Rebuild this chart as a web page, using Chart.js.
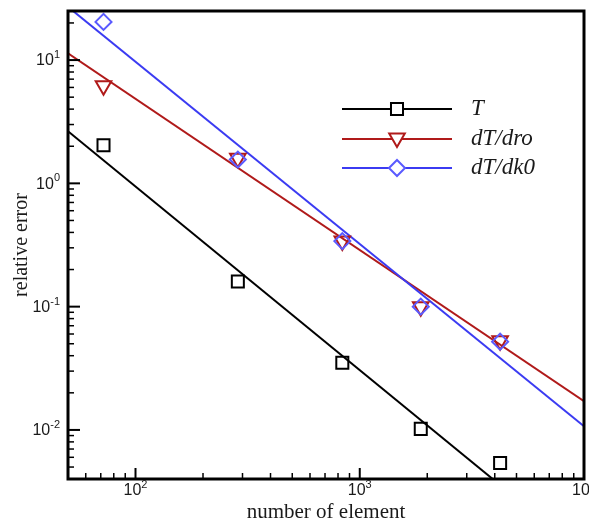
<!doctype html>
<html>
<head>
<meta charset="utf-8">
<title>relative error</title>
<script src="https://cdn.jsdelivr.net/npm/chart.js@4.4.1/dist/chart.umd.min.js"></script>
<style>
  body { margin: 0; background: #fff; }
  #wrap { position: relative; width: 595px; height: 524px; }
</style>
</head>
<body>
<div id="wrap"><canvas id="chart"></canvas></div>
<script>
// measured points
var elements = [72, 286, 836, 1871, 4226];
var errT     = [2.04, 0.16, 0.035, 0.0102, 0.0054];
var errDro   = [6.2, 1.6, 0.34, 0.10, 0.053];
var errDk0   = [20.4, 1.56, 0.34, 0.10, 0.052];

// fitted lines (end points)
var fitX   = [50, 10000];
var fitT   = [2.65, 0.00099];
var fitDro = [11.35, 0.0171];
var fitDk0 = [27, 0.0107];

// axes
var xMin = 50, xMax = 10000;
var yMin = 0.004, yMax = 25;
var xMajor = [100, 1000, 10000];
var yMajor = [0.01, 0.1, 1, 10];
var xTitle = 'number of element';
var yTitle = 'relative error';

var names = ['T', 'dT/dro', 'dT/dk0'];
var colLine = ['#000000', '#b01a1a', '#3b3bf2'];
var colMark = ['#000000', '#b01a1a', '#5a5aff'];

function pts(xs, ys) {
    var out = [];
    for (var i = 0; i < xs.length; i++) out.push({x: xs[i], y: ys[i]});
    return out;
}

function drawPow(ctx, exp, x, y, align) {
    var base = '10', sup = String(exp);
    ctx.font = '16px "Liberation Sans", Arial, sans-serif';
    var wb = ctx.measureText(base).width;
    ctx.font = '11px "Liberation Sans", Arial, sans-serif';
    var ws = ctx.measureText(sup).width;
    var left = align == 'right' ? x - wb - ws : x - (wb + ws) / 2;
    ctx.fillStyle = '#1a1a1a';
    ctx.textAlign = 'left';
    ctx.textBaseline = 'middle';
    ctx.font = '16px "Liberation Sans", Arial, sans-serif';
    ctx.fillText(base, left, y);
    ctx.font = '11px "Liberation Sans", Arial, sans-serif';
    ctx.fillText(sup, left + wb, y - 6);
}

var decor = {
    id: 'decor',
    afterDatasetsDraw: function(chart) {
        var ctx = chart.ctx, a = chart.chartArea;
        var sx = chart.scales.x, sy = chart.scales.y;
        ctx.save();
        ctx.strokeStyle = '#000';

        // x ticks (inward)
        for (var d = Math.floor(Math.log10(xMin)); d <= Math.log10(xMax); d++) {
            for (var m = 1; m <= 9; m++) {
                var v = m * Math.pow(10, d);
                if (v < xMin - 1e-9 || v > xMax + 1e-9) continue;
                var px = sx.getPixelForValue(v);
                ctx.lineWidth = m == 1 ? 2 : 1.5;
                ctx.beginPath();
                ctx.moveTo(px, a.bottom);
                ctx.lineTo(px, a.bottom - (m == 1 ? 11 : 6));
                ctx.stroke();
            }
        }
        // y ticks (inward)
        for (var d = Math.floor(Math.log10(yMin)); d <= Math.log10(yMax); d++) {
            for (var m = 1; m <= 9; m++) {
                var v = m * Math.pow(10, d);
                if (v < yMin - 1e-12 || v > yMax) continue;
                var py = sy.getPixelForValue(v);
                ctx.lineWidth = m == 1 ? 2 : 1.5;
                ctx.beginPath();
                ctx.moveTo(a.left, py);
                ctx.lineTo(a.left + (m == 1 ? 12 : 6), py);
                ctx.stroke();
            }
        }

        // frame
        ctx.lineWidth = 3;
        ctx.strokeRect(a.left, a.top, a.right - a.left, a.bottom - a.top);

        // tick labels (source picture is cropped just right of the frame)
        ctx.save();
        ctx.beginPath();
        ctx.rect(0, 0, 589, chart.height);
        ctx.clip();
        xMajor.forEach(function(v) {
            drawPow(ctx, Math.round(Math.log10(v)), sx.getPixelForValue(v), a.bottom + 12, 'center');
        });
        ctx.restore();
        yMajor.forEach(function(v) {
            drawPow(ctx, Math.round(Math.log10(v)), a.left - 8, sy.getPixelForValue(v) + 1, 'right');
        });

        // axis titles
        ctx.fillStyle = '#1a1a1a';
        ctx.textAlign = 'center';
        ctx.textBaseline = 'middle';
        ctx.font = '21px "Liberation Serif", "Times New Roman", serif';
        ctx.fillText(xTitle, (a.left + a.right) / 2, 512);
        ctx.save();
        ctx.translate(22, (a.top + a.bottom) / 2);
        ctx.rotate(-Math.PI / 2);
        ctx.font = '20px "Liberation Serif", "Times New Roman", serif';
        ctx.fillText(yTitle, 0, 0);
        ctx.restore();

        // legend
        var rows = [109, 139, 168];
        var styles = ['rect', 'triangle', 'rectRot'];
        var radii = [8.5, 9, 8];
        var rots = [0, 180, 0];
        for (var i = 0; i < 3; i++) {
            ctx.strokeStyle = colLine[i];
            ctx.lineWidth = 2;
            ctx.beginPath();
            ctx.moveTo(342, rows[i]);
            ctx.lineTo(452, rows[i]);
            ctx.stroke();
            ctx.fillStyle = '#fff';
            ctx.strokeStyle = colMark[i];
            ctx.lineWidth = 2;
            Chart.helpers.drawPoint(ctx, {pointStyle: styles[i], radius: radii[i], rotation: rots[i], borderWidth: 2},
                397, rows[i] + (i == 1 ? -1 : 0));
            ctx.fillStyle = '#1a1a1a';
            ctx.textAlign = 'left';
            ctx.textBaseline = 'middle';
            ctx.font = 'italic 23px "Liberation Serif", "Times New Roman", serif';
            ctx.fillText(names[i], 471, rows[i]);
        }
        ctx.restore();
    }
};

new Chart(document.getElementById('chart'), {
    type: 'scatter',
    data: {
        datasets: [
            { label: 'fitT', data: pts(fitX, fitT), showLine: true, borderColor: colLine[0], borderWidth: 2, pointRadius: 0, order: 5 },
            { label: 'fitDro', data: pts(fitX, fitDro), showLine: true, borderColor: colLine[1], borderWidth: 2, pointRadius: 0, order: 4 },
            { label: 'fitDk0', data: pts(fitX, fitDk0), showLine: true, borderColor: colLine[2], borderWidth: 2, pointRadius: 0, order: 3 },
            { label: names[0], data: pts(elements, errT), pointStyle: 'rect', pointRadius: 8.5, borderWidth: 2,
              borderColor: colMark[0], backgroundColor: 'rgba(0,0,0,0)', order: 2 },
            { label: names[1], data: pts(elements, errDro), pointStyle: 'triangle', rotation: 180, pointRadius: 9, borderWidth: 2,
              borderColor: colMark[1], backgroundColor: 'rgba(0,0,0,0)', order: 1 },
            { label: names[2], data: pts(elements, errDk0), pointStyle: 'rectRot', pointRadius: 8, borderWidth: 2,
              borderColor: colMark[2], backgroundColor: 'rgba(0,0,0,0)', order: 0 }
        ]
    },
    options: {
        responsive: true,
        maintainAspectRatio: false,
        animation: false,
        layout: { padding: { left: 68, right: 10, top: 10, bottom: 45 } },
        scales: {
            x: { type: 'logarithmic', min: xMin, max: xMax, display: false },
            y: { type: 'logarithmic', min: yMin, max: yMax, display: false }
        },
        plugins: { legend: { display: false }, tooltip: { enabled: false } }
    },
    plugins: [decor]
});
</script>
</body>
</html>
